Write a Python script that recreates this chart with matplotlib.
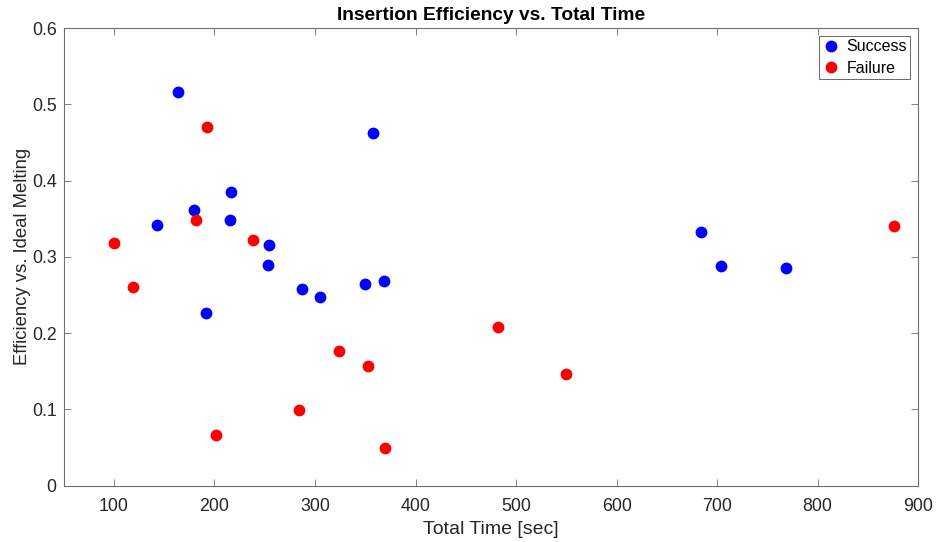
import numpy as np
import matplotlib
matplotlib.use("Agg")
import matplotlib.pyplot as plt

plt.rcParams['font.family'] = ['Liberation Sans', 'DejaVu Sans']

# Success runs
success_time = [163.6, 142.7, 179.8, 191.7, 216.9, 215.9, 254.7, 253.7, 286.9,
                304.8, 349.8, 368.7, 357.8, 683.8, 704.0, 768.0]
success_eff = [0.516, 0.342, 0.361, 0.227, 0.385, 0.348, 0.316, 0.290, 0.258,
               0.247, 0.264, 0.268, 0.462, 0.333, 0.288, 0.285]

# Failure runs
failure_time = [99.6, 118.5, 181.8, 192.4, 202.0, 238.5, 284.0, 324.0, 353.0,
                370.0, 481.7, 550.0, 876.3]
failure_eff = [0.318, 0.260, 0.349, 0.470, 0.066, 0.322, 0.099, 0.177, 0.157,
               0.049, 0.208, 0.147, 0.340]

fig = plt.figure(figsize=(9.36, 5.42), dpi=100)
ax = fig.add_axes([0.068, 0.104, 0.913, 0.844])

ax.plot(success_time, success_eff, 'o', color=(0, 0, 1), markersize=8.5,
        markeredgewidth=0, label='Success')
ax.plot(failure_time, failure_eff, 'o', color=(1, 0, 0), markersize=8.5,
        markeredgewidth=0, label='Failure')

ax.set_xlim(50, 900)
ax.set_ylim(0, 0.6)
ax.set_xticks(np.arange(100, 901, 100))
ax.set_yticks(np.arange(0, 0.61, 0.1))
ax.set_yticklabels(['0', '0.1', '0.2', '0.3', '0.4', '0.5', '0.6'])

ax.tick_params(direction='in', top=True, right=True, labelsize=12.8,
               colors='#262626', length=5, width=0.6)
ax.tick_params(axis='x', pad=9)
ax.tick_params(axis='y', pad=5)
for s in ax.spines.values():
    s.set_color('#6e6e6e')
    s.set_linewidth(0.8)
ax.tick_params(color='#6e6e6e')

ax.set_title('Insertion Efficiency vs. Total Time', fontsize=13.8,
             fontweight='bold', color='black', pad=6)
ax.set_xlabel('Total Time [sec]', fontsize=14, color='#262626', labelpad=4)
ax.set_ylabel('Efficiency vs. Ideal Melting', fontsize=13.3, color='#262626',
              labelpad=1)

leg = ax.legend(loc='upper right', fontsize=11.5, frameon=True, fancybox=False,
                edgecolor='#262626', handletextpad=0.35, borderpad=0.2,
                labelspacing=0.4, handlelength=1.2, borderaxespad=0.5)
leg.get_frame().set_linewidth(0.6)

fig.savefig('out.png', dpi=100)
